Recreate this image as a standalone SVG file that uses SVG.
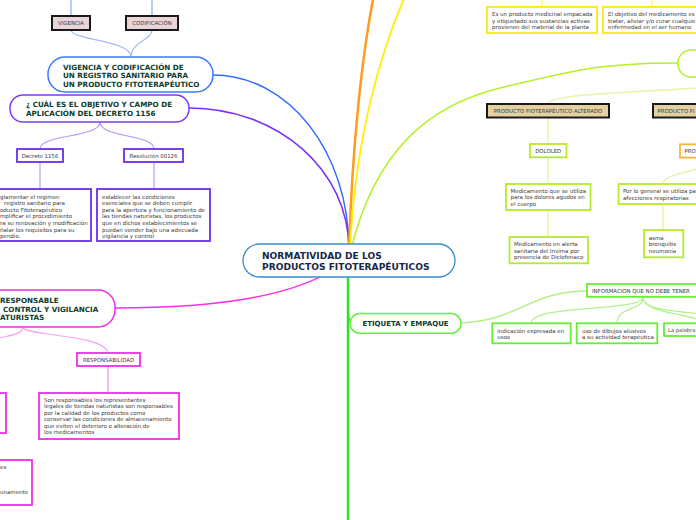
<svg xmlns="http://www.w3.org/2000/svg" width="696" height="520" viewBox="0 0 696 520">
<style>
.h{font-family:"DejaVu Sans",Verdana,sans-serif;font-weight:bold;font-size:7.2px;fill:#0d3b2e}
.c{font-family:"DejaVu Sans",Verdana,sans-serif;font-weight:bold;font-size:9.1px;fill:#182848}
.t{font-family:"DejaVu Sans",Verdana,sans-serif;font-size:5.5px;fill:#3a3a3a}
.l{font-family:"DejaVu Sans",Verdana,sans-serif;font-size:5.4px;fill:#3a3a3a;text-anchor:middle}
.cn{fill:none}
.bx{fill:#fff;stroke-width:1.8}
.tan{fill:#e3d0a3;stroke:#1a1a1a;stroke-width:2}
.pk{fill:#e9d4d9;stroke:#1a1a1a;stroke-width:2}
</style>
<rect width="696" height="520" fill="#fff"/>
<g id="connectors" class="cn">
  <path d="M213 75 C288 75 349 151 349 250" stroke="#2f6bff" stroke-width="1.5"/>
  <path d="M189 108 C277 108 349 169 349 250" stroke="#7b2ff7" stroke-width="1.5"/>
  <path d="M349 250 C352 150 362 50 376 -15" stroke="#ff9b1e" stroke-width="2.5"/>
  <path d="M350 250 C355 140 380 50 410 -15" stroke="#fff000" stroke-width="1.8"/>
  <path d="M351 250 C375 150 430 105 500 88 S600 63 678 63" stroke="#b7f02a" stroke-width="1.5"/>
  <path d="M115 308 C220 308 300 296 345 262" stroke="#ff2cf0" stroke-width="1.5"/>
  <path d="M348 262 V520" stroke="#33e02a" stroke-width="2.5"/>
  <path d="M348 300 C348 315 349 323 352 323" stroke="#33e02a" stroke-width="1.5"/>
  <path d="M71 0 V16 M152 0 V16" stroke="#a3b9ff" stroke-width="1.5"/>
  <path d="M71 30 C71 40 131 40 131 57 M152 30 C152 40 131 42 131 57" stroke="#a3b9ff" stroke-width="1.2"/>
  <path d="M100 122 C100 138 40 134 40 149 M100 122 C100 138 154 134 154 149" stroke="#b89af7" stroke-width="1.2"/>
  <path d="M40 162 V189 M154 162 V189" stroke="#c9b0f8" stroke-width="1.5"/>
  <path d="M23 327 C23 336 5 335 -10 341 M23 327 C23 336 105 334 108 353" stroke="#f5a0f0" stroke-width="1.2"/>
  <path d="M108 366 V393" stroke="#f5a0f0" stroke-width="1.5"/>
  <path d="M542 0 V7 M652 0 V7" stroke="#fff38a" stroke-width="1.5"/>
  <path d="M548 104 C551 96 590 94 700 88" stroke="#e3f7a8" stroke-width="1.5"/>
  <path d="M548 118 V144 M548 157 V184 M548 210 V237" stroke="#e3f7a8" stroke-width="1.5"/>
  <path d="M663 184 C663 176 680 174 700 168 M663 204 V230" stroke="#e3f7a8" stroke-width="1.5"/>
  <path d="M461 323 C520 320 530 291 587 291" stroke="#b2f08a" stroke-width="1.5"/>
  <path d="M643 297 C643 312 533 304 531 323 M643 297 C643 312 618 305 617 323 M643 297 C643 310 670 310 700 314 M643 297 C643 312 680 313 700 320" stroke="#b2f08a" stroke-width="1.2"/>
</g>
<g id="n-central">
  <rect x="243" y="244" width="212" height="33" rx="16.5" fill="#fff" stroke="#3a8cc8" stroke-width="1.3"/>
  <text class="c" x="262" y="258.5">NORMATIVIDAD DE LOS</text>
  <text class="c" x="262" y="269.8">PRODUCTOS FITOTERAPÉUTICOS</text>
</g>
<g id="n-vigencia"><rect class="pk" x="52" y="16" width="38" height="14"/><text class="l" x="71" y="25">VIGENCIA</text></g>
<g id="n-codificacion"><rect class="pk" x="126" y="16" width="52" height="14"/><text class="l" x="152" y="25">CODIFICACIÓN</text></g>
<g id="n-registro">
  <rect x="48" y="57" width="165" height="35" rx="17" fill="#fff" stroke="#3a7bff" stroke-width="1.5"/>
  <text class="h" x="63" y="69.5">VIGENCIA Y CODIFICACIÓN  DE</text>
  <text class="h" x="63" y="78">UN REGISTRO SANITARIO PARA</text>
  <text class="h" x="63" y="86.5">UN PRODUCTO FITOTERAPÉUTICO</text>
</g>
<g id="n-objetivo">
  <rect x="10" y="95" width="179" height="27" rx="13" fill="#fff" stroke="#7b3cf5" stroke-width="1.5"/>
  <text class="h" x="26" y="107">¿ CUÁL ES EL OBJETIVO Y CAMPO DE</text>
  <text class="h" x="26" y="115.5">APLICACIÓN DEL DECRETO 1156</text>
</g>
<g id="n-decreto"><rect class="bx" x="17" y="149" width="46" height="13" stroke="#6b2ef0"/><text class="l" x="40" y="157.6">Decreto 1156</text></g>
<g id="n-resolucion"><rect class="bx" x="124" y="149" width="59" height="13" stroke="#6b2ef0"/><text class="l" x="153.5" y="157.6">Resolución 00126</text></g>
<g id="n-decreto-txt">
  <rect class="bx" x="-10" y="189" width="101" height="52" stroke="#6b2ef0"/>
  <text class="t" x="0" y="198.5">glamentar el regimen</text>
  <text class="t" x="4" y="205">registro sanitario para</text>
  <text class="t" x="0" y="211.7">oducto Fitoterapéutico</text>
  <text class="t" x="0" y="218.3">mplificar  el procedimiento</text>
  <text class="t" x="0" y="225">ra su renovación y modificación</text>
  <text class="t" x="0" y="231.5">ñalar los requisitos para su</text>
  <text class="t" x="0" y="238">pendio.</text>
</g>
<g id="n-resolucion-txt">
  <rect class="bx" x="97" y="189" width="113" height="52" stroke="#6b2ef0"/>
  <text class="t" x="102" y="198.5">establecer las condiciones</text>
  <text class="t" x="102" y="205">esenciales que se deben cumplir</text>
  <text class="t" x="102" y="211.7">para la apertura y funcionamiento de</text>
  <text class="t" x="102" y="218.3">las tiendas naturistas, los productos</text>
  <text class="t" x="102" y="225">que en dichos establecimientos se</text>
  <text class="t" x="102" y="231.5">puedan vender bajo una adecuada</text>
  <text class="t" x="102" y="238">vigilancia y control</text>
</g>
<g id="n-responsable">
  <rect x="-80" y="290" width="195" height="37" rx="17" fill="#fff" stroke="#ee2ee8" stroke-width="1.5"/>
  <text class="h" x="0" y="303">RESPONSABLE</text>
  <text class="h" x="3" y="311.5">CONTROL Y VIGILANCIA</text>
  <text class="h" x="0" y="320">ATURISTAS</text>
</g>
<g id="n-responsabilidad"><rect class="bx" x="77" y="353" width="63" height="13" stroke="#ee2ee8"/><text class="l" x="108.5" y="361.6">RESPONSABILIDAD</text></g>
<g id="n-responsabilidad-txt">
  <rect class="bx" x="39" y="393" width="140" height="46" stroke="#ee2ee8"/>
  <text class="t" x="44" y="401.5">Son responsables los representantes</text>
  <text class="t" x="44" y="408">legales de tiendas naturistas son responsables</text>
  <text class="t" x="44" y="414.5">por la calidad de los productos como</text>
  <text class="t" x="44" y="421">conservar las condiciones de almacenamiento</text>
  <text class="t" x="44" y="427.5">que eviten el deterioro o alteración de</text>
  <text class="t" x="44" y="434">los medicamentos</text>
</g>
<g id="n-left-a"><rect class="bx" x="-10" y="393" width="16" height="40" stroke="#ee2ee8"/></g>
<g id="n-left-b">
  <rect class="bx" x="-10" y="460" width="42" height="45" stroke="#ee2ee8"/>
  <text class="t" x="0" y="468.5">es</text>
  <text class="t" x="0" y="494">unamente</text>
</g>
<g id="n-empacada">
  <rect class="bx" x="487" y="7" width="110" height="26" stroke="#f7e81a"/>
  <text class="t" x="492" y="16.3">Es un producto medicinal empacada</text>
  <text class="t" x="492" y="22.8">y etiquetado sus sustancias activas</text>
  <text class="t" x="492" y="29.3">provienen del material de la planta</text>
</g>
<g id="n-objetivo-med">
  <rect class="bx" x="603" y="7" width="110" height="26" stroke="#f7e81a"/>
  <text class="t" x="608" y="16.3">El objetivo del medicamento es</text>
  <text class="t" x="608" y="22.8">tratar, aliviar y/o curar cualquie</text>
  <text class="t" x="608" y="29.3">enfermedad en el ser humano</text>
</g>
<g id="n-lime-main"><rect x="678" y="50" width="60" height="27" rx="13" fill="#fff" stroke="#b7f02a" stroke-width="1.5"/></g>
<g id="n-alterado"><rect class="tan" x="487" y="104" width="122" height="13.5"/><text class="l" x="548" y="113">PRODUCTO FIOTERAPÉUTICO ALTERADO</text></g>
<g id="n-producto-fi"><rect class="tan" x="653" y="104" width="60" height="13.5"/><text class="t" x="657.5" y="113" style="font-size:5.4px">PRODUCTO FI</text></g>
<g id="n-dololed"><rect class="bx" x="530" y="144" width="36.5" height="13.3" stroke="#b5ea2a"/><text class="l" x="548.2" y="152.8">DOLOLED</text></g>
<g id="n-dololed-a">
  <rect class="bx" x="506" y="184" width="84.5" height="26" stroke="#b5ea2a"/>
  <text class="t" x="510.5" y="192.7">Medicamento que se utiliza</text>
  <text class="t" x="510.5" y="199.3">para los dolores agudos en</text>
  <text class="t" x="510.5" y="206">el cuerpo</text>
</g>
<g id="n-dololed-b">
  <rect class="bx" x="509.5" y="237" width="78.5" height="26.3" stroke="#b5ea2a"/>
  <text class="t" x="514" y="246">Medicamento en alerta</text>
  <text class="t" x="514" y="252.7">sanitaria del Invima por</text>
  <text class="t" x="514" y="259.3">presencia de Diclofenaco</text>
</g>
<g id="n-pro"><rect class="bx" x="680" y="144.3" width="40" height="13.3" stroke="#ffb534"/><text class="t" x="684.5" y="153" style="font-size:5.4px">PRO</text></g>
<g id="n-pro-a">
  <rect class="bx" x="618.5" y="184" width="100" height="20" stroke="#b5ea2a"/>
  <text class="t" x="623" y="193.3">Por lo general se utiliza pa</text>
  <text class="t" x="623" y="200">afecciones respiratorias</text>
</g>
<g id="n-pro-b">
  <rect class="bx" x="644" y="230" width="39.3" height="27.3" stroke="#b5ea2a"/>
  <text class="t" x="648.7" y="239.7">asma</text>
  <text class="t" x="648.7" y="246.2">bronquitis</text>
  <text class="t" x="648.7" y="252.7">neumonía</text>
</g>
<g id="n-etiqueta">
  <rect x="350" y="313.5" width="111" height="19.8" rx="9.9" fill="#fff" stroke="#66ee44" stroke-width="1.5"/>
  <text class="h" x="405.5" y="326" style="font-size:7px;text-anchor:middle">ETIQUETA Y EMPAQUE</text>
</g>
<g id="n-informacion"><rect class="bx" x="587" y="284" width="120" height="12.8" stroke="#66ee33"/><text class="t" x="592" y="292.6" style="font-size:5.4px">INFORMACION QUE NO DEBE TENER</text></g>
<g id="n-indicacion">
  <rect class="bx" x="492.3" y="323.3" width="78.4" height="20" stroke="#66ee33"/>
  <text class="t" x="497.3" y="332.5">indicación expresada en</text>
  <text class="t" x="497.3" y="339">usos</text>
</g>
<g id="n-dibujos">
  <rect class="bx" x="576.7" y="323.3" width="80.6" height="20" stroke="#66ee33"/>
  <text class="t" x="582" y="332.5">uso de dibujos alusivos</text>
  <text class="t" x="582" y="339">a su actividad terapéutica</text>
</g>
<g id="n-palabra">
  <rect class="bx" x="664" y="323.3" width="60" height="12.7" stroke="#66ee33"/>
  <text class="t" x="668" y="332" style="font-size:5.2px">La palabra</text>
</g>
</svg>
